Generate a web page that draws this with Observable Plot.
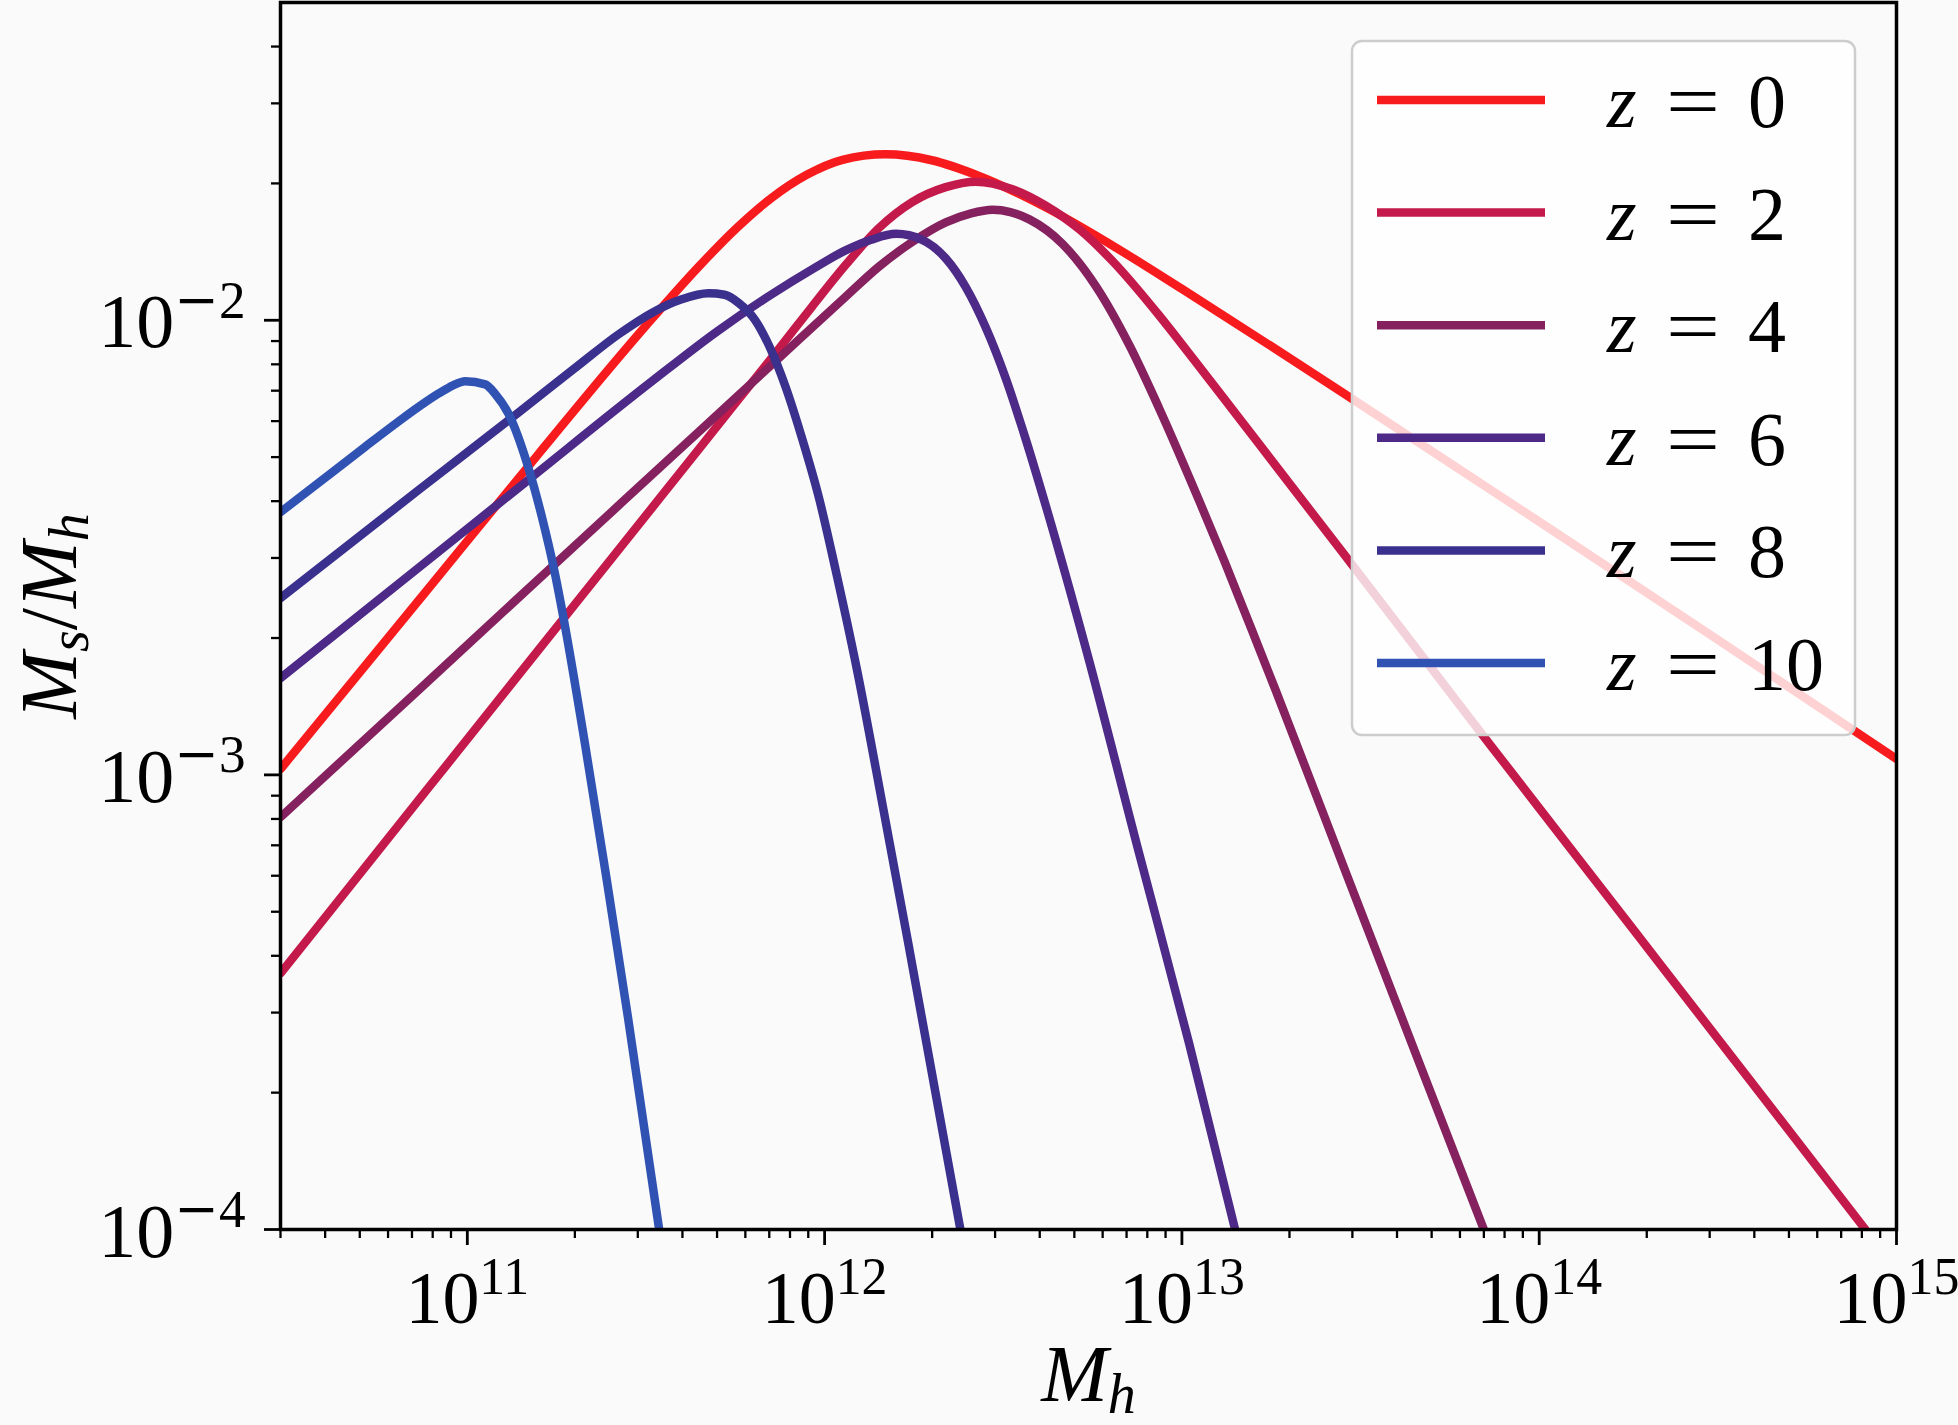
<!DOCTYPE html>
<html>
<head>
<meta charset="utf-8">
<script src="https://cdn.jsdelivr.net/npm/d3@7"></script>
<script src="https://cdn.jsdelivr.net/npm/@observablehq/plot@0.6"></script>
<style>
  html, body { margin: 0; padding: 0; background: #fafafa; overflow: hidden; }
  #wrap { position: relative; width: 1958px; height: 1425px; }
  #legend { position: absolute; left: 0; top: 0; pointer-events: none; }
</style>
</head>
<body>
<div id="wrap"></div>
<script>
// ---- data ----
const redshifts = [0, 2, 4, 6, 8, 10];
const legendLabels = ["0", "2", "4", "6", "8", "10"];
const seriesColors = ["#f81b1e", "#c41a4b", "#86215f", "#4d2a88", "#3a308e", "#2f52b3"];

const mh_z0 = [3.00e10, 7.94e10, 1.585e11, 3.162e11, 4.467e11, 5.623e11, 7.079e11, 8.913e11, 1.122e12, 1.479e12, 1.995e12, 2.692e12, 4.169e12, 6.310e12, 1.0e13, 1.778e13, 3.162e13, 1.0e14, 3.162e14, 1.0e15];
const ratio_z0 = [1.03e-3, 2.62e-3, 5.09e-3, 9.73e-3, 1.318e-2, 1.585e-2, 1.854e-2, 2.089e-2, 2.254e-2, 2.317e-2, 2.249e-2, 2.080e-2, 1.770e-2, 1.469e-2, 1.172e-2, 8.770e-3, 6.531e-3, 3.606e-3, 1.982e-3, 1.084e-3];

const mh_z2 = [3.00e10, 7.94e10, 1.995e11, 3.491e11, 5.623e11, 7.447e11, 9.226e11, 1.146e12, 1.419e12, 1.758e12, 2.183e12, 2.649e12, 3.357e12, 4.159e12, 5.164e12, 6.397e12, 8.650e12, 1.076e13, 1.384e13, 1.770e13, 2.838e13, 7.228e13, 1.854e14, 4.742e14, 8.185e14];
const ratio_z2 = [3.66e-4, 9.55e-4, 2.366e-3, 4.102e-3, 6.561e-3, 8.650e-3, 1.072e-2, 1.324e-2, 1.596e-2, 1.820e-2, 1.963e-2, 2.018e-2, 1.941e-2, 1.786e-2, 1.585e-2, 1.349e-2, 1.023e-2, 8.222e-3, 6.368e-3, 4.955e-3, 3.062e-3, 1.175e-3, 4.519e-4, 1.742e-4, 1.00e-4];

const mh_z4 = [3.00e10, 7.29e10, 1.663e11, 3.491e11, 7.447e11, 1.146e12, 1.419e12, 1.758e12, 2.183e12, 2.570e12, 2.951e12, 3.311e12, 3.741e12, 4.634e12, 5.741e12, 7.129e12, 8.650e12, 1.122e13, 1.315e13, 1.567e13, 1.828e13, 2.871e13, 4.603e13, 7.00e13];
const ratio_z4 = [8.07e-4, 1.535e-3, 2.793e-3, 4.775e-3, 8.26e-3, 1.127e-2, 1.312e-2, 1.486e-2, 1.641e-2, 1.718e-2, 1.750e-2, 1.730e-2, 1.667e-2, 1.472e-2, 1.189e-2, 8.810e-3, 6.383e-3, 3.981e-3, 2.951e-3, 2.089e-3, 1.538e-3, 6.124e-4, 2.339e-4, 1.00e-4];

const mh_z6 = [3.00e10, 7.29e10, 1.483e11, 3.289e11, 5.012e11, 7.079e11, 9.226e11, 1.148e12, 1.349e12, 1.585e12, 1.875e12, 2.183e12, 2.483e12, 2.825e12, 3.214e12, 3.656e12, 4.159e12, 5.433e12, 7.534e12, 1.047e13, 1.409e13];
const ratio_z6 = [1.633e-3, 2.851e-3, 4.457e-3, 7.345e-3, 9.462e-3, 1.138e-2, 1.294e-2, 1.426e-2, 1.503e-2, 1.549e-2, 1.503e-2, 1.368e-2, 1.183e-2, 9.638e-3, 7.447e-3, 5.470e-3, 3.908e-3, 1.849e-3, 6.871e-4, 2.570e-4, 1.00e-4];

const mh_z8 = [3.00e10, 7.29e10, 1.390e11, 1.995e11, 2.649e11, 3.311e11, 3.981e11, 4.732e11, 5.248e11, 5.754e11, 6.397e11, 6.982e11, 7.780e11, 8.650e11, 9.638e11, 1.074e12, 1.233e12, 1.452e12, 1.714e12, 2.399e12];
const ratio_z8 = [2.449e-3, 4.227e-3, 6.266e-3, 7.834e-3, 9.311e-3, 1.042e-2, 1.112e-2, 1.146e-2, 1.138e-2, 1.091e-2, 1.000e-2, 8.810e-3, 7.129e-3, 5.495e-3, 4.074e-3, 2.818e-3, 1.698e-3, 8.610e-4, 4.266e-4, 1.00e-4];

const mh_z10 = [3.00e10, 4.159e10, 5.164e10, 6.412e10, 7.295e10, 8.318e10, 9.120e10, 9.863e10, 1.122e11, 1.197e11, 1.303e11, 1.483e11, 1.614e11, 1.762e11, 1.879e11, 2.138e11, 2.455e11, 2.818e11, 3.443e11];
const ratio_z10 = [3.784e-3, 4.613e-3, 5.260e-3, 5.984e-3, 6.442e-3, 6.902e-3, 7.194e-3, 7.345e-3, 7.228e-3, 6.887e-3, 6.237e-3, 4.732e-3, 3.715e-3, 2.754e-3, 2.113e-3, 1.161e-3, 5.888e-4, 2.917e-4, 1.00e-4];

const xMajorTicks = [1e11, 1e12, 1e13, 1e14, 1e15];
const xTickLabels = ["10^11", "10^12", "10^13", "10^14", "10^15"];
const xMinorTicks = [3e10, 4e10, 5e10, 6e10, 7e10, 8e10, 9e10,
  2e11, 3e11, 4e11, 5e11, 6e11, 7e11, 8e11, 9e11,
  2e12, 3e12, 4e12, 5e12, 6e12, 7e12, 8e12, 9e12,
  2e13, 3e13, 4e13, 5e13, 6e13, 7e13, 8e13, 9e13,
  2e14, 3e14, 4e14, 5e14, 6e14, 7e14, 8e14, 9e14];
const yMajorTicks = [1e-4, 1e-3, 1e-2];
const yTickLabels = ["10^\u22124", "10^\u22123", "10^\u22122"];
const yMinorTicks = [2e-4, 3e-4, 4e-4, 5e-4, 6e-4, 7e-4, 8e-4, 9e-4,
  2e-3, 3e-3, 4e-3, 5e-3, 6e-3, 7e-3, 8e-3, 9e-3,
  2e-2, 3e-2, 4e-2];
const xLabel = "M_h";
const yLabel = "M_s/M_h";

// ---- build the table ----
const mhSeries = [mh_z0, mh_z2, mh_z4, mh_z6, mh_z8, mh_z10];
const ratioSeries = [ratio_z0, ratio_z2, ratio_z4, ratio_z6, ratio_z8, ratio_z10];
const table = redshifts.flatMap((z, i) =>
  mhSeries[i].map((m, j) => ({z, Mh: m, ratio: ratioSeries[i][j]})));

const FONT = "'Liberation Serif', 'Times New Roman', serif";

const svg = Plot.plot({
  width: 1958,
  height: 1425,
  marginLeft: 280,
  marginRight: 62,
  marginTop: 2,
  marginBottom: 196,
  style: {background: "#fafafa", color: "#000", fontFamily: FONT, overflow: "visible"},
  x: {type: "log", domain: [3e10, 1e15]},
  y: {type: "log", domain: [1e-4, 0.05]},
  color: {type: "ordinal", domain: redshifts, range: seriesColors},
  marks: [
    Plot.line(table, {x: "Mh", y: "ratio", z: "z", stroke: "z", strokeWidth: 8.5,
      curve: "monotone-x", clip: true, strokeLinejoin: "round"}),
    Plot.frame({stroke: "#000", strokeWidth: 3.5}),
    Plot.axisX(xMinorTicks, {tickSize: 9, strokeWidth: 2.3, fill: "none", label: null}),
    Plot.axisX(xMajorTicks, {tickSize: 16, strokeWidth: 2.8, fill: "none", label: null}),
    Plot.axisY(yMinorTicks, {tickSize: 9, strokeWidth: 2.3, fill: "none", label: null}),
    Plot.axisY(yMajorTicks, {tickSize: 16, strokeWidth: 2.8, fill: "none", label: null}),
    Plot.text(xMajorTicks, {x: d => d, text: (d, i) => xTickLabels[i], frameAnchor: "bottom", dy: 93,
      lineAnchor: "bottom", textAnchor: "middle", fontSize: 74, fill: "#000"}),
    Plot.text(yMajorTicks, {y: d => d, text: (d, i) => yTickLabels[i], frameAnchor: "left", dx: -35, dy: 27,
      lineAnchor: "bottom", textAnchor: "end", fontSize: 76, fill: "#000"}),
    Plot.text([xLabel], {text: d => d, frameAnchor: "bottom", dy: 171, lineAnchor: "bottom",
      textAnchor: "middle", fontSize: 80, fill: "#000"}),
    Plot.text([yLabel], {text: d => d, frameAnchor: "left", dx: -205, rotate: -90, lineAnchor: "bottom",
      textAnchor: "middle", fontSize: 80, fill: "#000"})
  ]
});

const wrap = document.getElementById("wrap");
wrap.append(svg);

// ---- turn "^" / "_" markup into real super/subscript tspans ----
const NS = "http://www.w3.org/2000/svg";
function formatMath(el, src) {
  const size = parseFloat(getComputedStyle(el).fontSize) || 74;
  const segs = [];
  let mode = 0;
  for (let i = 0; i < src.length; i++) {
    const c = src[i];
    if (c === "^") { mode = 1; continue; }
    if (c === "_") { segs.push({t: src[++i], lvl: -1}); continue; }
    segs.push({t: c, lvl: mode});
  }
  el.textContent = "";
  let cur = 0;
  for (const s of segs) {
    const ts = document.createElementNS(NS, "tspan");
    const target = s.lvl === 1 ? -0.39 * size : s.lvl === -1 ? 0.16 * size : 0;
    if (target !== cur) ts.setAttribute("dy", (target - cur).toFixed(2));
    cur = target;
    if (s.lvl) ts.setAttribute("font-size", (0.7 * size).toFixed(1));
    if (/[A-Za-z]/.test(s.t)) ts.setAttribute("font-style", "italic");
    if (s.t === "\u2212") ts.setAttribute("font-family", "'DejaVu Serif', serif");
    ts.textContent = s.t;
    el.append(ts);
  }
}
svg.querySelectorAll("text").forEach(el => {
  const s = el.textContent;
  if (/[\^_]/.test(s)) formatMath(el, s);
});

// ---- legend (matplotlib-style box, upper right) ----
const leg = d3.select(wrap).append("svg").attr("id", "legend")
  .attr("width", 1958).attr("height", 1425);
leg.append("rect").attr("x", 1352).attr("y", 41).attr("width", 503).attr("height", 694)
  .attr("rx", 10).attr("fill", "#ffffff").attr("fill-opacity", 0.8)
  .attr("stroke", "#cdcdcd").attr("stroke-width", 2.5);
redshifts.forEach((z, i) => {
  const y = 100 + i * 112.6;
  leg.append("line").attr("x1", 1377).attr("x2", 1545).attr("y1", y).attr("y2", y)
    .attr("stroke", seriesColors[i]).attr("stroke-width", 8.5);
  leg.append("text").attr("x", 1607).attr("y", y + 27).attr("font-family", FONT)
    .attr("font-size", 76).attr("font-style", "italic").attr("fill", "#000").text("z");
  leg.append("text").attr("x", 1666).attr("y", y + 27).attr("font-family", FONT)
    .attr("font-size", 76).attr("textLength", 54).attr("lengthAdjust", "spacingAndGlyphs")
    .attr("fill", "#000").text("=");
  leg.append("text").attr("x", 1748).attr("y", y + 27).attr("font-family", FONT)
    .attr("font-size", 76).attr("fill", "#000").text(legendLabels[i]);
});
</script>
</body>
</html>
